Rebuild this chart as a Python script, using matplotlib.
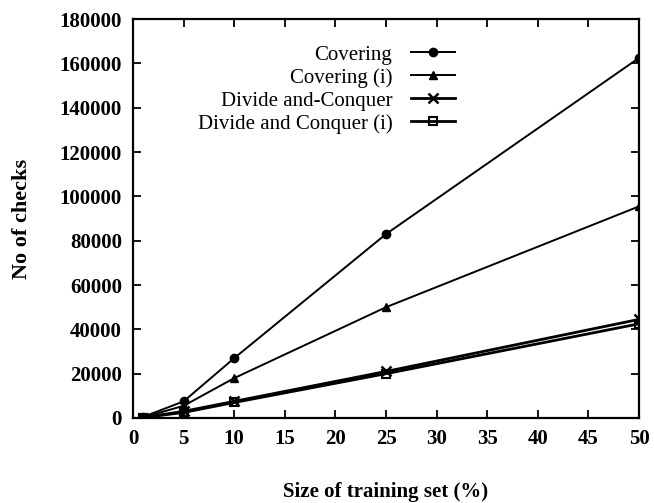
import matplotlib
matplotlib.use("Agg")
import matplotlib.pyplot as plt

x = [1, 5, 10, 25, 50]
covering = [500, 7500, 27000, 83000, 162500]
covering_i = [300, 5500, 18000, 50000, 95500]
dc = [200, 3000, 7500, 21000, 44500]
dc_i = [200, 2500, 7000, 20000, 42500]
labels = ["Covering", "Covering (i)", "Divide and-Conquer", "Divide and Conquer (i)"]
xticks = [0, 5, 10, 15, 20, 25, 30, 35, 40, 45, 50]
yticks = [0, 20000, 40000, 60000, 80000, 100000, 120000, 140000, 160000, 180000]

plt.rcParams['font.family'] = ['Liberation Serif', 'DejaVu Serif']
fig = plt.figure(figsize=(6.54, 5.03), dpi=100)
ax = fig.add_axes([0.2034, 0.169, 0.7737, 0.793])

ax.plot(x, covering, color='black', lw=1.4, marker='o', ms=6, label=labels[0])
ax.plot(x, covering_i, color='black', lw=1.4, marker='^', ms=6, label=labels[1])
ax.plot(x, dc, color='black', lw=2.0, marker='x', ms=7, mew=1.8, label=labels[2])
ax.plot(x, dc_i, color='black', lw=2.0, marker='s', ms=6, mfc='none', mew=1.5, label=labels[3])

ax.set_xlim(0, 50)
ax.set_ylim(0, 180000)
ax.set_xticks(xticks)
ax.set_yticks(yticks)
ax.tick_params(direction='in', top=True, right=True, length=6, width=1.3, labelsize=15, pad=8)
for lab in ax.get_xticklabels() + ax.get_yticklabels():
    lab.set_fontweight('bold')
for s in ax.spines.values():
    s.set_linewidth(1.6)
ax.set_xlabel("Size of training set (%)", fontsize=15, fontweight='bold', labelpad=24)
ax.set_ylabel("No of checks", fontsize=16, fontweight='bold', labelpad=20)

leg = ax.legend(loc='upper right', bbox_to_anchor=(0.636, 0.935), frameon=False, markerfirst=False,
                prop={'size': 15}, handlelength=2.1, handletextpad=0.9, labelspacing=0.16,
                borderaxespad=0, borderpad=0)
for t in leg.get_texts():
    t.set_ha('right')
leg._legend_box.align = "right"

fig.savefig("out.png", dpi=100)
